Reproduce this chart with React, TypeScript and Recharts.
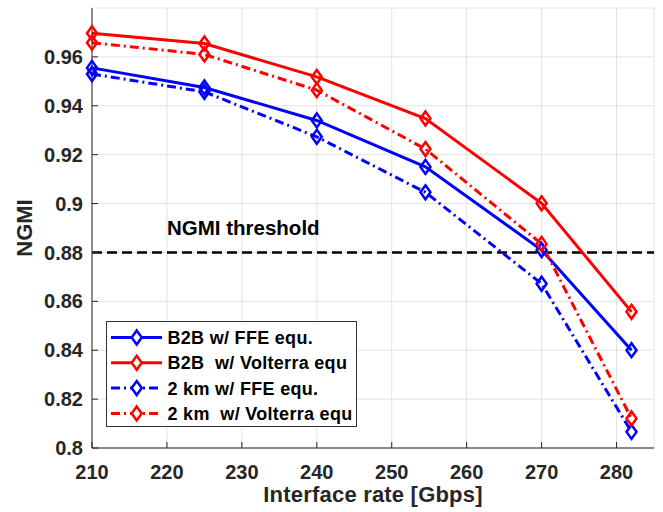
import React from 'react';
import {
  LineChart, Line, XAxis, YAxis, CartesianGrid, ReferenceLine, Legend, Label,
} from 'recharts';

const xValues = [210, 225, 240, 254.5, 270, 282];
const b2bFFE = [0.9555, 0.9475, 0.934, 0.915, 0.881, 0.84];
const b2bVolterra = [0.9697, 0.9655, 0.9518, 0.9348, 0.9001, 0.8557];
const km2FFE = [0.953, 0.9457, 0.9273, 0.9046, 0.8672, 0.8066];
const km2Volterra = [0.9658, 0.961, 0.9464, 0.9223, 0.8835, 0.8121];

const xTicks = [210, 220, 230, 240, 250, 260, 270, 280];
const yTicks = [0.8, 0.82, 0.84, 0.86, 0.88, 0.9, 0.92, 0.94, 0.96];
const threshold = 0.88;

const seriesNames = [
  'B2B w/ FFE equ.',
  'B2B  w/ Volterra equ',
  '2 km w/ FFE equ.',
  '2 km  w/ Volterra equ',
];

const data = xValues.map((x, i) => ({
  x,
  s0: b2bFFE[i],
  s1: b2bVolterra[i],
  s2: km2FFE[i],
  s3: km2Volterra[i],
}));

const FONT = '"Liberation Sans", Arial, Helvetica, sans-serif';
const AXIS = '#262626';
const BLUE = '#0000ff';
const RED = '#ff0000';
const DASHDOT = '9 4 2 4';

const series = [
  { key: 's0', color: BLUE, dash: undefined as string | undefined },
  { key: 's1', color: RED, dash: undefined as string | undefined },
  { key: 's2', color: BLUE, dash: DASHDOT },
  { key: 's3', color: RED, dash: DASHDOT },
];

const diamondPath = (cx: number, cy: number) =>
  `M${cx},${cy - 7} L${cx + 5},${cy} L${cx},${cy + 7} L${cx - 5},${cy} Z`;

const makeDot = (color: string) => (props: any) => {
  const { cx, cy, index } = props;
  if (cx == null || cy == null) return <g key={`d-${index}`} />;
  return (
    <path
      key={`d-${index}`}
      d={diamondPath(cx, cy)}
      fill="none"
      stroke={color}
      strokeWidth={2.5}
    />
  );
};

const LegendBox = () => (
  <svg width={251} height={106} style={{ display: 'block' }}>
    <rect x={0.5} y={0.5} width={250} height={105} fill="#fff" stroke="#333" strokeWidth={1} />
    {series.map((s, i) => {
      const cy = 16.5 + i * 25.3;
      return (
        <g key={s.key}>
          <line x1={5} x2={56} y1={cy} y2={cy} stroke={s.color} strokeWidth={3} strokeDasharray={s.dash} />
          <path d={diamondPath(30.7, cy)} fill="#fff" stroke={s.color} strokeWidth={2.5} />
          <text
            x={61.5}
            y={cy + 6.5}
            fontFamily={FONT}
            fontWeight="bold"
            fontSize={18}
            letterSpacing={0.3}
            fill="#000"
            style={{ whiteSpace: 'pre' }}
          >
            {seriesNames[i]}
          </text>
        </g>
      );
    })}
  </svg>
);

const tickStyle = { fontSize: 20, fontWeight: 'bold', fill: AXIS, fontFamily: FONT };

export default function App() {
  return (
    <div style={{ position: 'absolute', left: 0, top: 0 }}>
      <LineChart
        width={663}
        height={512}
        data={data}
        margin={{ top: 8, right: 9, left: 8, bottom: 4 }}
      >
        <CartesianGrid stroke="#e3e3e3" strokeWidth={1} />
        <XAxis
          dataKey="x"
          type="number"
          domain={[210, 285]}
          ticks={xTicks}
          height={60}
          stroke={AXIS}
          tickSize={-6}
          tickMargin={22.5}
          tick={tickStyle}
          interval={0}
        >
          <Label
            content={(props: any) => {
              const vb = props.viewBox || {};
              const cx = (vb.x ?? 92) + (vb.width ?? 562) / 2;
              return (
                <text
                  x={cx}
                  y={(vb.y ?? 448) + 53.5}
                  textAnchor="middle"
                  fontFamily={FONT}
                  fontWeight="bold"
                  fontSize={22}
                  letterSpacing={0.2}
                  fill={AXIS}
                >
                  Interface rate [Gbps]
                </text>
              );
            }}
          />
        </XAxis>
        <XAxis
          xAxisId="top"
          orientation="top"
          type="number"
          domain={[210, 285]}
          ticks={xTicks}
          height={0}
          stroke={AXIS}
          tickSize={-6}
          tick={false}
          interval={0}
        />
        <YAxis
          type="number"
          domain={[0.8, 0.98]}
          ticks={yTicks}
          width={84}
          stroke={AXIS}
          tickSize={-6}
          tickMargin={15}
          tick={tickStyle}
          interval={0}
        >
          <Label
            value="NGMI"
            angle={-90}
            position="insideLeft"
            offset={16.5}
            style={{ fontSize: 22, fontWeight: 'bold', fill: AXIS, fontFamily: FONT, textAnchor: 'middle' }}
          />
        </YAxis>
        <YAxis
          yAxisId="right"
          orientation="right"
          type="number"
          domain={[0.8, 0.98]}
          ticks={yTicks}
          width={0}
          stroke={AXIS}
          tickSize={-6}
          tick={false}
          interval={0}
        />
        <ReferenceLine
          y={threshold}
          stroke="#000"
          strokeWidth={2.5}
          strokeDasharray="10 5"
          label={(props: any) => {
            const vb = props.viewBox || {};
            return (
              <text
                x={(vb.x ?? 92) + 75}
                y={(vb.y ?? 253) - 17}
                fontFamily={FONT}
                fontWeight="bold"
                fontSize={20.5}
                fill="#000"
              >
                NGMI threshold
              </text>
            );
          }}
        />
        {series.map((s) => (
          <Line
            key={s.key}
            dataKey={s.key}
            type="linear"
            stroke={s.color}
            strokeWidth={3}
            strokeDasharray={s.dash}
            dot={makeDot(s.color)}
            activeDot={false}
            isAnimationActive={false}
          />
        ))}
        <Legend
          layout="vertical"
          align="center"
          verticalAlign="middle"
          wrapperStyle={{ left: 106, top: 321, width: 251, height: 106 }}
          content={() => <LegendBox />}
        />
      </LineChart>
    </div>
  );
}
